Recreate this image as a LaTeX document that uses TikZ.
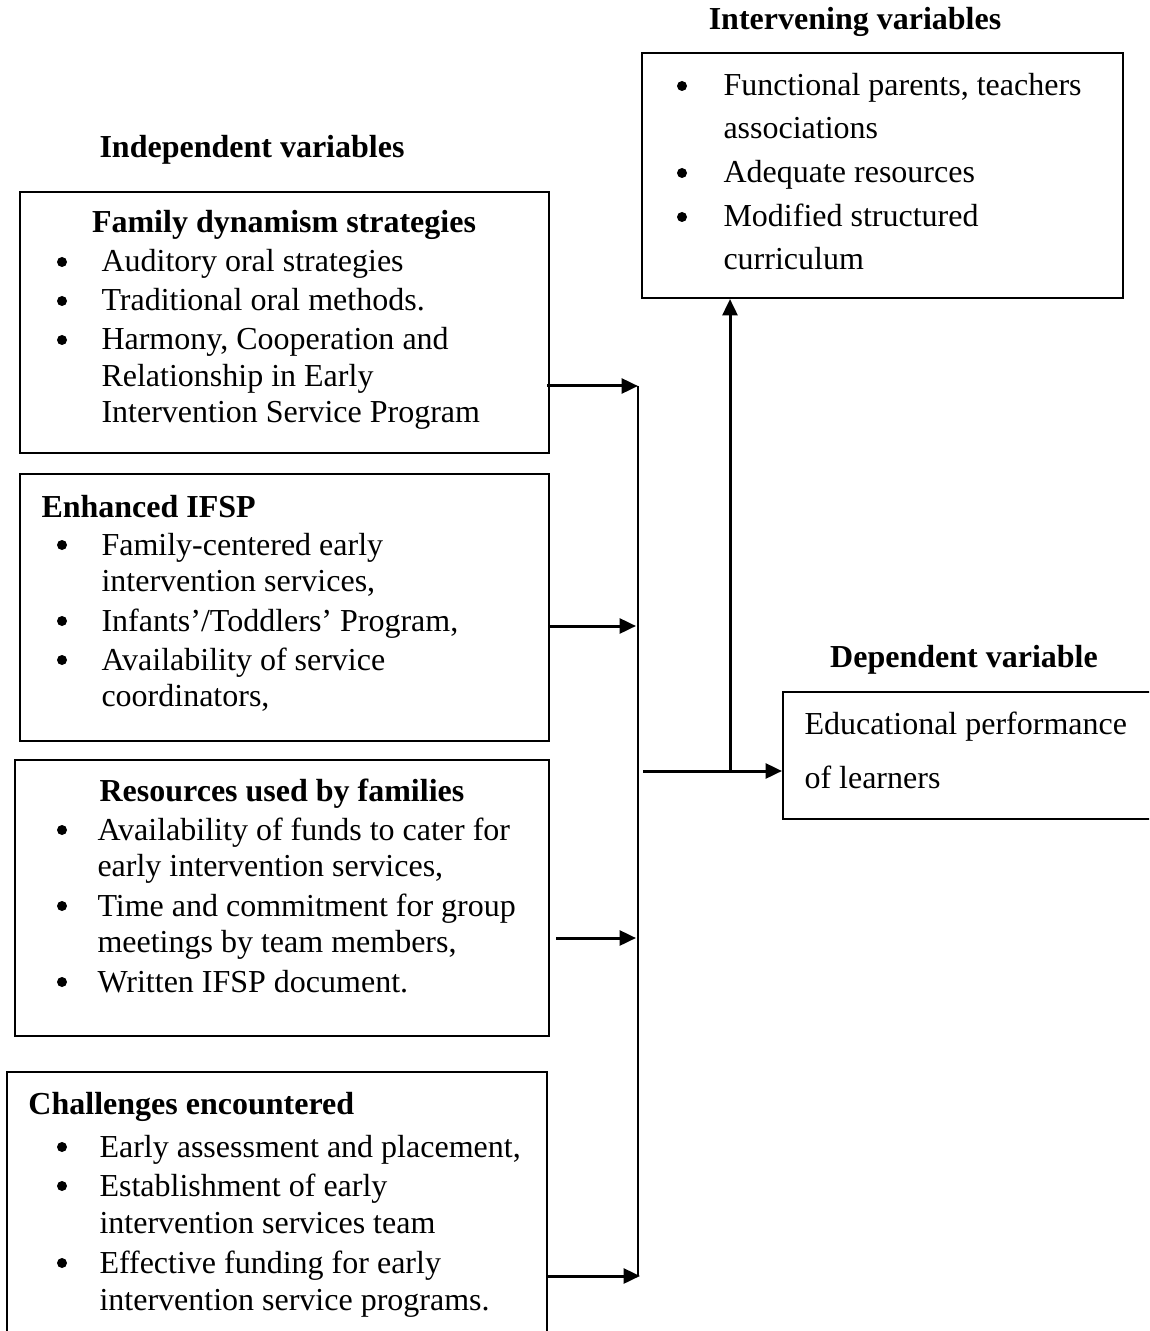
\documentclass[tikz,border=0pt]{standalone}
\usepackage{fontspec}
\setmainfont{Liberation Serif}
\usetikzlibrary{arrows.meta,fit}
\begin{document}
\begin{tikzpicture}[x=0.4pt,y=-0.4pt,
  box/.style={draw, line width=0.8pt, inner sep=0pt},
  txt/.style={anchor=base west, inner sep=0pt, font=\fontsize{12.8}{15}\selectfont},
  ttlw/.style={anchor=base west, inner sep=0pt, font=\fontsize{12.8}{15}\selectfont\bfseries},
  ttlc/.style={anchor=base, inner sep=0pt, font=\fontsize{12.8}{15}\selectfont\bfseries},
  bul/.style={circle, fill=black, inner sep=0pt, minimum size=4pt},
  arr/.style={line width=1.2pt, -{Triangle[length=6.6pt,width=6pt]}},
  vline/.style={line width=0.8pt}]
\useasboundingbox (0,0) rectangle (1149,1331);
\clip (0,0) rectangle (1149,1331);

% headings
\node[ttlc] (hint) at (855,30) {Intervening variables};
\node[ttlc] (hind) at (252,158) {Independent variables};
\node[ttlc] (hdep) at (964,667) {Dependent variable};

% intervening box
\node[box, fit={(642,53) (1123,298)}] (inter) {};
\node[bul] (ib1) at (682,86) {};
\node[txt] (it1) at (723,96) {Functional parents, teachers};
\node[txt] (it2) at (723,139) {associations};
\node[bul] (ib2) at (682,173) {};
\node[txt] (it3) at (723,183) {Adequate resources};
\node[bul] (ib3) at (682,217) {};
\node[txt] (it4) at (723,227) {Modified structured};
\node[txt] (it5) at (723,270) {curriculum};

% box 1
\node[box, fit={(20,192) (549,453)}] (b1) {};
\node[ttlc] (b1t) at (284,233) {Family dynamism strategies};
\node[bul] (b1b1) at (62,262) {};
\node[txt] (b1l1) at (101,272) {Auditory oral strategies};
\node[bul] (b1b2) at (62,301) {};
\node[txt] (b1l2) at (101,311) {Traditional oral methods.};
\node[bul] (b1b3) at (62,340) {};
\node[txt] (b1l3) at (101,350) {Harmony, Cooperation and};
\node[txt] (b1l4) at (101,387) {Relationship in Early};
\node[txt] (b1l5) at (101,423) {Intervention Service Program};

% box 2
\node[box, fit={(20,474) (549,741)}] (b2) {};
\node[ttlw] (b2t) at (41,517) {Enhanced IFSP};
\node[bul] (b2b1) at (62,545) {};
\node[txt] (b2l1) at (101,555) {Family-centered early};
\node[txt] (b2l2) at (101,591) {intervention services,};
\node[bul] (b2b2) at (62,621) {};
\node[txt] (b2l3) at (101,631) {Infants'/Toddlers' Program,};
\node[bul] (b2b3) at (62,660) {};
\node[txt] (b2l4) at (101,670) {Availability of service};
\node[txt] (b2l5) at (101,706) {coordinators,};

% box 3
\node[box, fit={(15,760) (549,1036)}] (b3) {};
\node[ttlc] (b3t) at (282,801) {Resources used by families};
\node[bul] (b3b1) at (62,830) {};
\node[txt] (b3l1) at (97,840) {Availability of funds to cater for};
\node[txt] (b3l2) at (97,876) {early intervention services,};
\node[bul] (b3b2) at (62,906) {};
\node[txt] (b3l3) at (97,916) {Time and commitment for group};
\node[txt] (b3l4) at (97,952) {meetings by team members,};
\node[bul] (b3b3) at (62,982) {};
\node[txt] (b3l5) at (97,992) {Written IFSP document.};

% box 4
\node[box, fit={(7,1072) (547,1345)}] (b4) {};
\node[ttlw] (b4t) at (28,1114) {Challenges encountered};
\node[bul] (b4b1) at (62,1147) {};
\node[txt] (b4l1) at (99,1157) {Early assessment and placement,};
\node[bul] (b4b2) at (62,1186) {};
\node[txt] (b4l2) at (99,1196) {Establishment of early};
\node[txt] (b4l3) at (99,1233) {intervention services team};
\node[bul] (b4b3) at (62,1263) {};
\node[txt] (b4l4) at (99,1273) {Effective funding for early};
\node[txt] (b4l5) at (99,1310) {intervention service programs.};

% dependent box
\node[box, fit={(783,692) (1160,819)}] (dep) {};
\node[txt] (d1) at (804,734) {Educational performance};
\node[txt] (d2) at (804,788) {of learners};

% connectors
\coordinate (j1) at (638,386);
\coordinate (j2) at (636,626);
\coordinate (j3) at (636,938);
\coordinate (j4) at (640,1276);
\coordinate (vtop) at (638,386);
\coordinate (vbot) at (638,1276);
\coordinate (h0) at (643,771);
\coordinate (h1) at (730,771);
\coordinate (s3) at (556,938);

\draw[arr] ([xshift=-1.2pt]b1.east |- j1) -- (j1);
\draw[arr] (b2.east |- j2) -- (j2);
\draw[arr] (s3) -- (j3);
\draw[arr] (b4.east |- j4) -- (j4);
\draw[vline] (vtop) -- (vbot);
\draw[arr] (h0) -- (dep.west |- h0);
\draw[arr] (h1) -- (h1 |- inter.south);
\end{tikzpicture}
\end{document}
